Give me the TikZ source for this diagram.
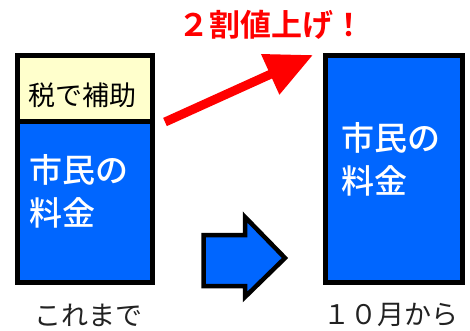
\documentclass[tikz,border=0pt]{standalone}
\usepackage{fontspec}
\setmainfont{Noto Sans CJK JP}
\newfontfamily\jpbold{Noto Sans CJK JP Bold}
\newfontfamily\jpmed{Noto Sans CJK JP Medium}
\usetikzlibrary{arrows.meta}
\definecolor{barblue}{HTML}{0066FF}
\definecolor{baryellow}{HTML}{FFFFCC}
\definecolor{labelgray}{HTML}{222222}
\tikzset{
  barframe/.style={draw=black, line width=5pt},
  bartext/.style={text=white, font=\jpmed\fontsize{33}{42}\selectfont, align=left, anchor=west, inner sep=0pt},
  caption/.style={text=labelgray, font=\fontsize{27}{30}\selectfont, inner sep=0pt},
}
\begin{document}
\begin{tikzpicture}[x=1pt,y=-1pt]
\useasboundingbox[fill=white] (0,0) rectangle (470,330);
% left bar
\draw[barframe, fill=baryellow] (17.5,55.5) rectangle (152.5,121);
\draw[barframe, fill=barblue] (17.5,121) rectangle (152.5,282.5);
\node[inner sep=0pt, font=\fontsize{27}{30}\selectfont] (tax) at (82,95) {税で補助};
\node[bartext] (left1) at (29,170) {市民の};
\node[bartext] (left2) at (29,213) {料金};
% right bar
\draw[barframe, fill=barblue] (325.5,55.5) rectangle (462.5,282.5);
\node[bartext] (right1) at (341,138) {市民の};
\node[bartext] (right2) at (341,181) {料金};
% red arrow
\coordinate (rtail) at (165,122);
\coordinate (rtip) at (313,55);
\draw[red, line width=9pt, -{Triangle[length=47pt,width=42pt]}] (rtail) -- (rtip);
\node[text=red, font=\jpbold\fontsize{31}{33}\selectfont, inner sep=0pt] (rise) at (271,25) {２割値上げ！};
% blue block arrow
\draw[draw=black, line width=4.5pt, fill=barblue, line join=miter]
  (203.5,235) -- (245,235) -- (245,217) -- (285,258) -- (245,297) -- (245,286) -- (203.5,286) -- cycle;
% captions
\node[caption] (before) at (88,315) {これまで};
\node[caption] (after) at (391,315) {１０月から};
\end{tikzpicture}
\end{document}
